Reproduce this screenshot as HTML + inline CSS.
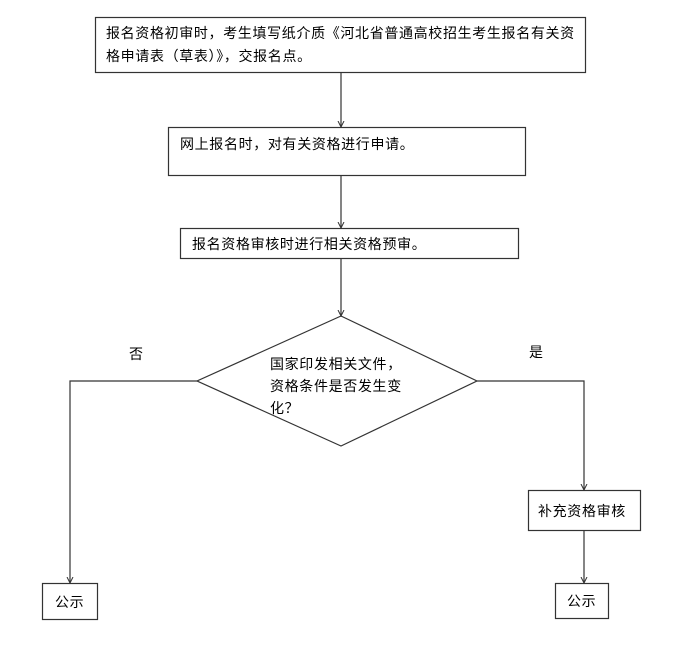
<!DOCTYPE html>
<html><head><meta charset="utf-8"><style>
body{margin:0;background:#fff;}
svg text{font-family:"Liberation Sans","Noto Sans CJK SC",sans-serif;font-size:14px;letter-spacing:0.65px;fill:#000;}
</style></head><body>
<svg width="682" height="643" viewBox="0 0 682 643" xmlns="http://www.w3.org/2000/svg">
<defs><marker id="a" markerWidth="8" markerHeight="8" refX="6" refY="4" orient="auto" markerUnits="userSpaceOnUse"><path d="M0,1 L6,4 L0,7" fill="none" stroke="#333" stroke-width="1"/></marker></defs>
<g fill="none" stroke="#333" stroke-width="1.2">
<rect x="95.5" y="17.5" width="490" height="55"/>
<rect x="168.5" y="127.5" width="357" height="48"/>
<rect x="180.5" y="228.5" width="338" height="30"/>
<polygon points="341,316 477,381 341,446 197,381"/>
<rect x="42.5" y="583.5" width="55" height="36"/>
<rect x="528.5" y="490.5" width="112" height="40"/>
<rect x="555.5" y="583.5" width="53" height="35"/>
<line x1="341" y1="72" x2="341" y2="127" marker-end="url(#a)"/>
<line x1="341" y1="176" x2="341" y2="228" marker-end="url(#a)"/>
<line x1="341" y1="259" x2="341" y2="316" marker-end="url(#a)"/>
<polyline points="197,381 70,381 70,583" marker-end="url(#a)"/>
<polyline points="477,381 584,381 584,490" marker-end="url(#a)"/>
<line x1="584" y1="531" x2="584" y2="583" marker-end="url(#a)"/>
</g>
<text x="106" y="38">报名资格初审时，考生填写纸介质《河北省普通高校招生考生报名有关资</text>
<text x="106" y="61">格申请表（草表）》，交报名点。</text>
<text x="180" y="149">网上报名时，对有关资格进行申请。</text>
<text x="192" y="249">报名资格审核时进行相关资格预审。</text>
<text x="270" y="369">国家印发相关文件，</text>
<text x="270" y="391">资格条件是否发生变</text>
<text x="270" y="413">化？</text>
<text x="129" y="359">否</text>
<text x="529" y="357">是</text>
<text x="55" y="607">公示</text>
<text x="538" y="516">补充资格审核</text>
<text x="567" y="606">公示</text>
</svg>
</body></html>
